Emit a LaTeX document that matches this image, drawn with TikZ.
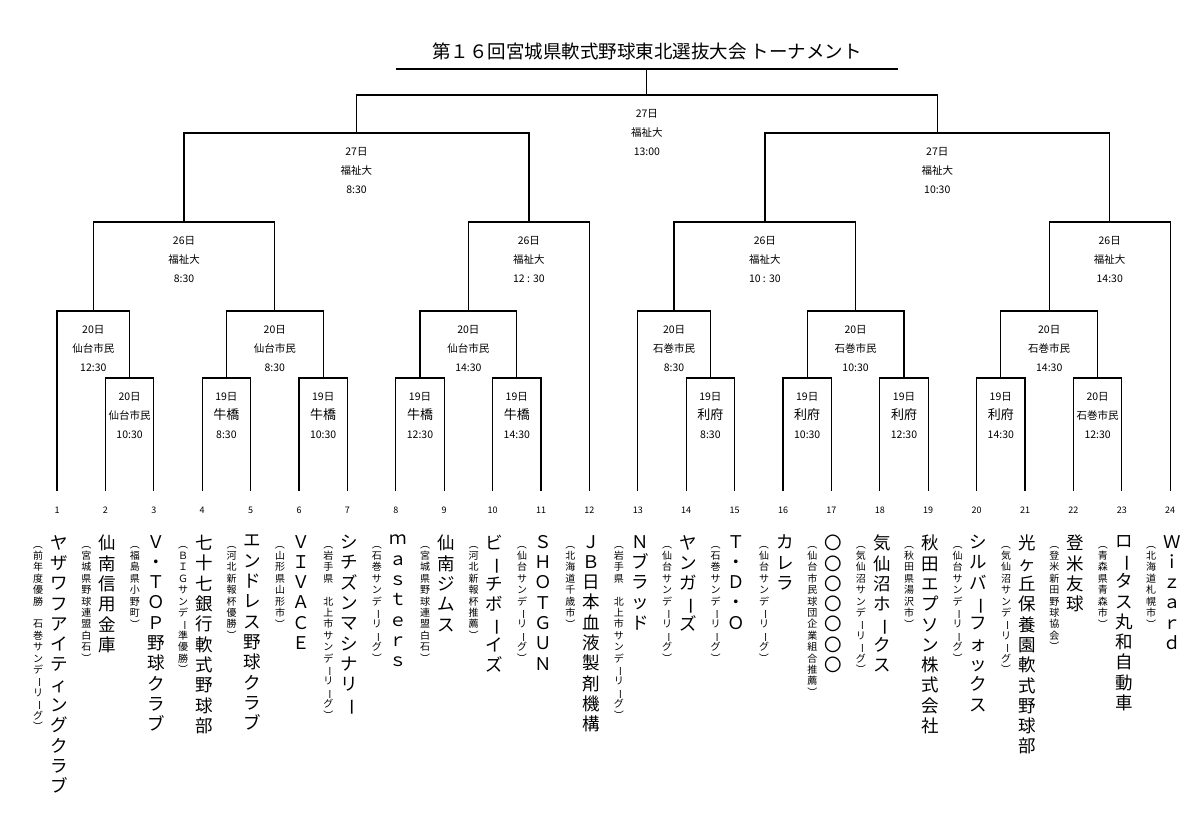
\documentclass[tikz,border=0pt]{standalone}
\usepackage{fontspec}
\usepackage{graphicx}
\setmainfont{Noto Sans CJK JP}
\usetikzlibrary{calc}
\makeatletter
\def\vlong{ー}\def\vlp{（}\def\vrp{）}
\def\vfix#1{\ifx#1\vlong\rotatebox[origin=c]{-90}{ー}\else\ifx#1\vlp\rotatebox[origin=c]{-90}{（}\else\ifx#1\vrp\rotatebox[origin=c]{-90}{）}\else#1\fi\fi\fi}
\newcommand\vt[2]{\vbox{\baselineskip=#1\lineskiplimit=-30pt\lineskip=0pt\@tfor\vch:=#2\do{\hbox to 1.1em{\hss\vfix\vch\hss}}}}
\makeatother
\begin{document}
\begin{tikzpicture}[x=1pt,y=-1pt,
  br/.style={line width=1.3pt},
  lab/.style={anchor=north,align=center,font=\fontsize{10.5}{19}\selectfont,inner sep=0pt},
  num/.style={font=\fontsize{9}{10}\selectfont},
  tname/.style={anchor=north,inner sep=0pt,font=\fontsize{17.5}{20}\selectfont},
  tsub/.style={anchor=north,inner sep=0pt,font=\fontsize{10}{11.4}\selectfont}]
\useasboundingbox[fill=white] (0,0) rectangle (1199,840);
\node[font=\fontsize{18.5}{20}\selectfont] (title) at (647,51) {第１６回宮城県軟式野球東北選抜大会\ トーナメント};
\draw[line width=2pt] (396,69) coordinate (ulL) -- (898,69) coordinate (ulR);
\foreach \i in {1,...,24}{
  \coordinate (t\i) at ({57+48.4*(\i-1)},491);
  \node[num] (n\i) at ({57+48.4*(\i-1)},510) {\i};
}
\newcommand\bm[4]{%
  \path (#2 |- 0,#4) coordinate (#1L) (#3 |- 0,#4) coordinate (#1R) ($(#1L)!.5!(#1R)$) coordinate (#1);
  \draw[br] (#2) -- (#1L) -- (#1R) -- (#3);}
\newcommand\ml[2]{\node[lab] (#1lab) at ($(#1)+(0,14)$) {#2};}
\newcommand\bigv[1]{{\fontsize{13}{19}\selectfont #1}}
% left half
\bm{A}{t2}{t3}{378} \ml{A}{20日\\仙台市民\\10:30}
\bm{B}{t1}{A}{311} \ml{B}{20日\\仙台市民\\12:30}
\bm{C}{t4}{t5}{378} \ml{C}{19日\\\bigv{牛橋}\\8:30}
\bm{D}{t6}{t7}{378} \ml{D}{19日\\\bigv{牛橋}\\10:30}
\bm{E}{C}{D}{311} \ml{E}{20日\\仙台市民\\8:30}
\bm{F}{t8}{t9}{378} \ml{F}{19日\\\bigv{牛橋}\\12:30}
\bm{G}{t10}{t11}{378} \ml{G}{19日\\\bigv{牛橋}\\14:30}
\bm{H}{F}{G}{311} \ml{H}{20日\\仙台市民\\14:30}
\bm{Q1}{B}{E}{222} \ml{Q1}{26日\\福祉大\\8:30}
\bm{Q2}{H}{t12}{222} \ml{Q2}{26日\\福祉大\\12 : 30}
\bm{S1}{Q1}{Q2}{133} \ml{S1}{27日\\福祉大\\8:30}
% right half
\bm{I}{t14}{t15}{378} \ml{I}{19日\\\bigv{利府}\\8:30}
\bm{J}{t13}{I}{311} \ml{J}{20日\\石巻市民\\8:30}
\bm{K}{t16}{t17}{378} \ml{K}{19日\\\bigv{利府}\\10:30}
\bm{L}{t18}{t19}{378} \ml{L}{19日\\\bigv{利府}\\12:30}
\bm{M}{K}{L}{311} \ml{M}{20日\\石巻市民\\10:30}
\bm{N}{t20}{t21}{378} \ml{N}{19日\\\bigv{利府}\\14:30}
\bm{O}{t22}{t23}{378} \ml{O}{20日\\石巻市民\\12:30}
\bm{P}{N}{O}{311} \ml{P}{20日\\石巻市民\\14:30}
\bm{Q3}{J}{M}{222} \ml{Q3}{26日\\福祉大\\10 : 30}
\bm{Q4}{P}{t24}{222} \ml{Q4}{26日\\福祉大\\14:30}
\bm{S2}{Q3}{Q4}{133} \ml{S2}{27日\\福祉大\\10:30}
\bm{FI}{S1}{S2}{95} \ml{FI}{27日\\福祉大\\13:00}
\draw[line width=1pt] (FI) -- (FI |- ulL);
% team names
\newcommand\team[3]{%
  \node[tname] (name#1) at ($(t#1)+(2,44)$) {\vt{20.3pt}{#2}};
  \node[tsub] (sub#1) at ($(t#1)+(-19,48)$) {\vt{11.4pt}{#3}};}
\team{1}{ヤザワフアイティングクラブ}{（前年度優勝　石巻サンデーリーグ）}
\team{2}{仙南信用金庫}{（宮城県野球連盟白石）}
\team{3}{Ｖ・ＴＯＰ野球クラブ}{（福島県小野町）}
\team{4}{七十七銀行軟式野球部}{（ＢＩＧサンデー準優勝）}
\team{5}{エンドレス野球クラブ}{（河北新報杯優勝）}
\team{6}{ＶＩＶＡＣＥ}{（山形県山形市）}
\team{7}{シチズンマシナリー}{（岩手県　北上市サンデーリーグ）}
\team{8}{ｍａｓｔｅｒｓ}{（石巻サンデーリーグ）}
\team{9}{仙南ジムス}{（宮城県野球連盟白石）}
\team{10}{ビーチボーイズ}{（河北新報杯推薦）}
\team{11}{ＳＨＯＴＧＵＮ}{（仙台サンデーリーグ）}
\team{12}{ＪＢ日本血液製剤機構}{（北海道千歳市）}
\team{13}{Ｎブラッド}{（岩手県　北上市サンデーリーグ）}
\team{14}{ヤンガーズ}{（仙台サンデーリーグ）}
\team{15}{Ｔ・Ｄ・Ｏ}{（石巻サンデーリーグ）}
\team{16}{カレラ}{（仙台サンデーリーグ）}
\team{17}{〇〇〇〇〇〇〇}{（仙台市民球団企業組合推薦）}
\team{18}{気仙沼ホークス}{（気仙沼サンデーリーグ）}
\team{19}{秋田エプソン株式会社}{（秋田県湯沢市）}
\team{20}{シルバーフォックス}{（仙台サンデーリーグ）}
\team{21}{光ヶ丘保養園軟式野球部}{（気仙沼サンデーリーグ）}
\team{22}{登米友球}{（登米新田野球協会）}
\team{23}{ロータス丸和自動車}{（青森県青森市）}
\team{24}{Ｗｉｚａｒｄ}{（北海道札幌市）}
\end{tikzpicture}
\end{document}
